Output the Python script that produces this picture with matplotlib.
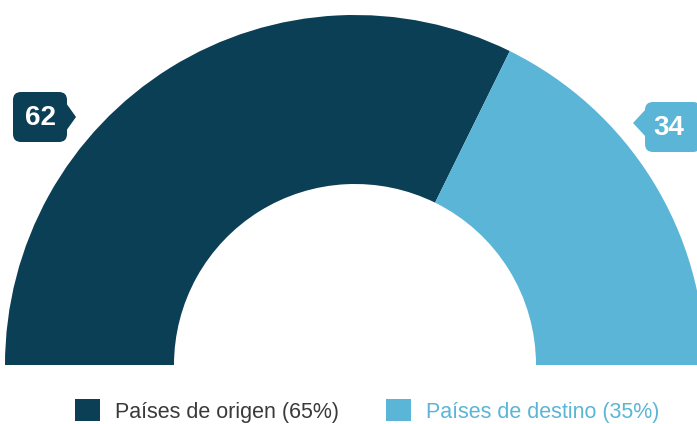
import matplotlib.pyplot as plt
from matplotlib.patches import Polygon, FancyBboxPatch

labels = ['Países de origen (65%)', 'Países de destino (35%)']
values = [62, 34]
colors = ['#0b3f56', '#5bb5d7']
text_colors = ['#3a3a3a', '#5bb5d7']

plt.rcParams['font.family'] = ['Liberation Sans', 'DejaVu Sans']

fig = plt.figure(figsize=(6.97, 4.24), dpi=100)
ax = fig.add_axes([0, 0, 1, 1])

cx, cy, r_out, r_in = 355, 59, 350, 181
wedges, _ = ax.pie(values + [sum(values)], colors=colors + ['none'],
                   startangle=180, counterclock=False, radius=r_out,
                   center=(cx, cy), frame=True,
                   wedgeprops=dict(width=r_out - r_in, linewidth=0))
wedges[2].set_visible(False)
ax.set_xlim(0, 697)
ax.set_ylim(0, 424)
ax.axis('off')

# callout labels (box, pointer, number)
ax.add_patch(FancyBboxPatch((13, 282), 54, 50, boxstyle='round,pad=0,rounding_size=8',
                            fc=colors[0], ec='none'))
ax.add_patch(Polygon([[66, 321], [76, 307], [66, 293]], closed=True, fc=colors[0], ec='none'))
ax.text(40, 306, str(values[0]), color='white', fontsize=20, fontweight='bold',
        ha='center', va='center')

ax.add_patch(FancyBboxPatch((645, 272), 56, 50, boxstyle='round,pad=0,rounding_size=8',
                            fc=colors[1], ec='none'))
ax.add_patch(Polygon([[646, 315], [633, 301], [646, 287]], closed=True, fc=colors[1], ec='none'))
ax.text(669, 296, str(values[1]), color='white', fontsize=20, fontweight='bold',
        ha='center', va='center')

leg = ax.legend(wedges[:2], labels, loc='center', bbox_to_anchor=(0.527, 13 / 424),
                ncol=2, frameon=False, fontsize=15.5, handlelength=1.16, handleheight=1.16,
                handletextpad=0.7, columnspacing=2.19, borderaxespad=0)
for t, c in zip(leg.get_texts(), text_colors):
    t.set_color(c)

fig.savefig('out.png', dpi=100)
